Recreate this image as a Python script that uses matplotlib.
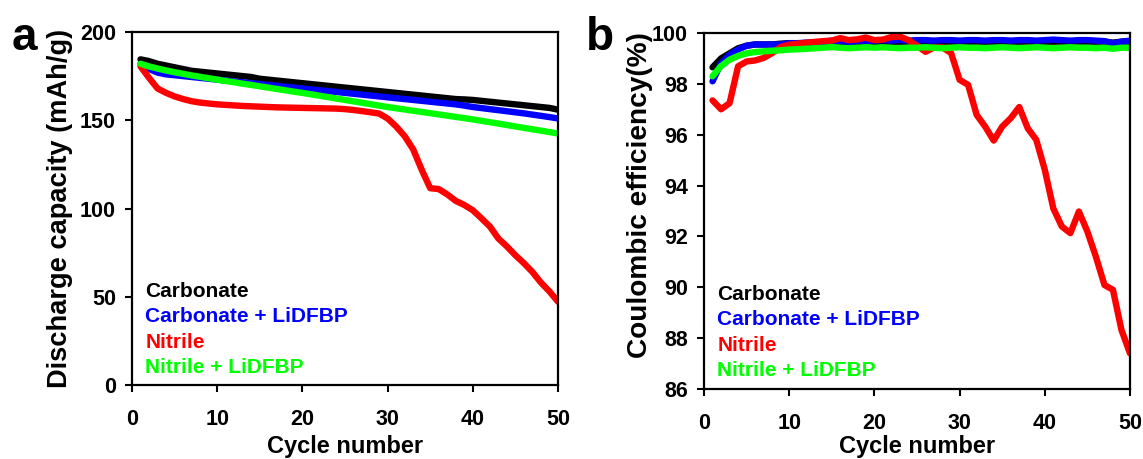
import matplotlib
matplotlib.use("Agg")
import matplotlib.pyplot as plt

plt.rcParams['font.family'] = ['Liberation Sans', 'DejaVu Sans']
plt.rcParams['font.weight'] = 'bold'

cycles = list(range(1, 51))

# Discharge capacity (mAh/g)
cap_carbonate = [184.5, 183.5, 182.0, 181.0, 180.0, 179.0, 178.0, 177.5, 177.0, 176.5,
                 176.0, 175.5, 175.0, 174.5, 173.5, 173.0, 172.5, 172.0, 171.5, 171.0,
                 170.5, 170.0, 169.5, 169.0, 168.5, 168.0, 167.5, 167.0, 166.5, 166.0,
                 165.5, 165.0, 164.5, 164.0, 163.5, 163.0, 162.5, 162.0, 161.8, 161.5,
                 161.0, 160.5, 160.0, 159.5, 159.0, 158.5, 158.0, 157.5, 157.0, 156.0]
cap_carbonate_lidfbp = [182.0, 179.0, 177.0, 176.0, 175.5, 175.0, 174.5, 174.0, 173.5, 173.0,
                        172.5, 172.0, 171.5, 171.0, 170.5, 170.0, 169.5, 169.0, 168.5, 168.0,
                        167.5, 167.0, 166.5, 166.0, 165.5, 165.0, 164.5, 164.0, 163.5, 163.0,
                        162.5, 162.0, 161.5, 161.0, 160.5, 160.0, 159.5, 159.0, 158.3, 157.5,
                        156.9, 156.3, 155.7, 155.1, 154.5, 153.9, 153.2, 152.5, 151.8, 151.0]
cap_nitrile = [180.5, 174.0, 168.0, 165.5, 163.5, 162.0, 160.8, 160.0, 159.5, 159.0,
               158.7, 158.4, 158.1, 157.9, 157.7, 157.5, 157.3, 157.2, 157.1, 157.0,
               156.9, 156.8, 156.7, 156.6, 156.3, 155.8, 155.2, 154.5, 153.8, 151.0,
               146.5, 141.0, 133.5, 122.0, 111.5, 111.0, 108.0, 104.3, 102.0, 99.0,
               94.5, 89.8, 83.0, 78.5, 73.5, 69.0, 64.0, 58.0, 53.0, 47.2]
cap_nitrile_lidfbp = [182.0, 180.5, 179.3, 178.2, 177.2, 176.3, 175.4, 174.6, 173.8, 173.0,
                      172.2, 171.5, 170.7, 170.0, 169.2, 168.5, 167.7, 167.0, 166.2, 165.5,
                      164.7, 163.9, 163.1, 162.3, 161.5, 160.7, 159.9, 159.1, 158.3, 157.5,
                      156.8, 156.1, 155.4, 154.7, 154.0, 153.3, 152.6, 151.9, 151.2, 150.5,
                      149.7, 148.9, 148.1, 147.3, 146.5, 145.7, 144.9, 144.1, 143.3, 142.5]

# Coulombic efficiency (%)
ce_carbonate = [98.65, 99.0, 99.2, 99.4, 99.5, 99.55, 99.55, 99.55, 99.58, 99.6,
                99.6, 99.6, 99.62, 99.62, 99.63, 99.63, 99.64, 99.64, 99.65, 99.65,
                99.65, 99.65, 99.66, 99.66, 99.66, 99.66, 99.66, 99.66, 99.66, 99.66,
                99.66, 99.66, 99.66, 99.66, 99.66, 99.66, 99.66, 99.66, 99.66, 99.66,
                99.66, 99.66, 99.66, 99.66, 99.66, 99.66, 99.66, 99.62, 99.66, 99.66]
ce_carbonate_lidfbp = [98.1, 98.8, 99.15, 99.35, 99.5, 99.55, 99.55, 99.55, 99.55, 99.6,
                       99.6, 99.62, 99.62, 99.65, 99.7, 99.68, 99.65, 99.68, 99.7, 99.7,
                       99.72, 99.7, 99.72, 99.7, 99.72, 99.72, 99.7, 99.72, 99.72, 99.7,
                       99.72, 99.72, 99.7, 99.72, 99.72, 99.7, 99.72, 99.72, 99.7, 99.72,
                       99.74, 99.72, 99.7, 99.72, 99.72, 99.7, 99.68, 99.6, 99.66, 99.7]
ce_nitrile = [97.35, 97.0, 97.24, 98.69, 98.88, 98.92, 99.02, 99.21, 99.45, 99.54,
              99.58, 99.62, 99.65, 99.68, 99.7, 99.8, 99.72, 99.75, 99.82, 99.72,
              99.74, 99.84, 99.86, 99.72, 99.5, 99.26, 99.43, 99.43, 99.21, 98.16,
              97.96, 96.78, 96.32, 95.77, 96.32, 96.65, 97.09, 96.25, 95.8, 94.62,
              93.1, 92.39, 92.13, 92.98, 92.19, 91.2, 90.09, 89.9, 88.32, 87.4]
ce_nitrile_lidfbp = [98.3, 98.7, 98.95, 99.1, 99.2, 99.25, 99.28, 99.3, 99.32, 99.35,
                     99.36, 99.38, 99.4, 99.42, 99.45, 99.42, 99.4, 99.42, 99.44, 99.42,
                     99.44, 99.42, 99.4, 99.42, 99.42, 99.44, 99.42, 99.4, 99.42, 99.44,
                     99.42, 99.42, 99.4, 99.42, 99.44, 99.42, 99.4, 99.42, 99.44, 99.42,
                     99.4, 99.42, 99.44, 99.42, 99.42, 99.4, 99.42, 99.38, 99.42, 99.42]

labels = ['Carbonate', 'Carbonate + LiDFBP', 'Nitrile', 'Nitrile + LiDFBP']
colors = ['#000000', '#0000ff', '#ff0000', '#00ff00']

W, H = 1143, 459
fig = plt.figure(figsize=(W / 100, H / 100), dpi=100)


def px_axes(left, top, right, bottom):
    return fig.add_axes([left / W, 1 - bottom / H, (right - left) / W, (bottom - top) / H])


ax1 = px_axes(132, 32, 558, 385)
ax2 = px_axes(704, 33, 1130, 389)

series_cap = [cap_carbonate, cap_carbonate_lidfbp, cap_nitrile, cap_nitrile_lidfbp]
series_ce = [ce_carbonate, ce_carbonate_lidfbp, ce_nitrile, ce_nitrile_lidfbp]

for ax, series in ((ax1, series_cap), (ax2, series_ce)):
    for ys, c in zip(series, colors):
        ax.plot(cycles, ys, color=c, lw=4.6, solid_capstyle='round',
                solid_joinstyle='round')
    for s in ax.spines.values():
        s.set_linewidth(1.6)
    ax.tick_params(direction='out', length=5, width=1.5, labelsize=15.5)
    ax.tick_params(axis='x', pad=12)
    ax.tick_params(axis='y', pad=6.5)
    ax.set_xlim(0, 50)
    ax.set_xticks(range(0, 51, 10))
    for lab in ax.get_xticklabels() + ax.get_yticklabels():
        lab.set_fontweight('bold')

ax1.set_ylim(0, 200)
ax1.set_yticks(range(0, 201, 50))
ax2.set_ylim(86, 100)
ax2.set_yticks(range(86, 101, 2))

ax1.set_xlabel('Cycle number', fontsize=17, fontweight='bold', va='baseline')
ax2.set_xlabel('Cycle number', fontsize=17, fontweight='bold', va='baseline')
ax1.xaxis.set_label_coords(0.5, -0.1926)
ax2.xaxis.set_label_coords(0.5, -0.181)

ax1.set_ylabel('Discharge capacity (mAh/g)', fontsize=19.6, fontweight='bold', va='center')
ax2.set_ylabel('Coulombic efficiency(%)', fontsize=20.2, fontweight='bold', va='center')
ax1.yaxis.set_label_coords(-0.169, 0.5)
ax2.yaxis.set_label_coords(-0.150, 0.545)

# Colour-coded legend text
for ax, y0, dy in ((ax1, 0.250, 0.0722), (ax2, 0.250, 0.0711)):
    for i, (lab, c) in enumerate(zip(labels, colors)):
        ax.text(0.031, y0 - i * dy, lab, color=c, fontsize=15, fontweight='bold',
                transform=ax.transAxes, va='baseline', ha='left')

fig.text(12 / W, 1 - 50 / H, 'a', fontsize=33, fontweight='bold', va='baseline')
fig.text(586 / W, 1 - 50 / H, 'b', fontsize=33, fontweight='bold', va='baseline')

fig.savefig('out.png', dpi=100)
